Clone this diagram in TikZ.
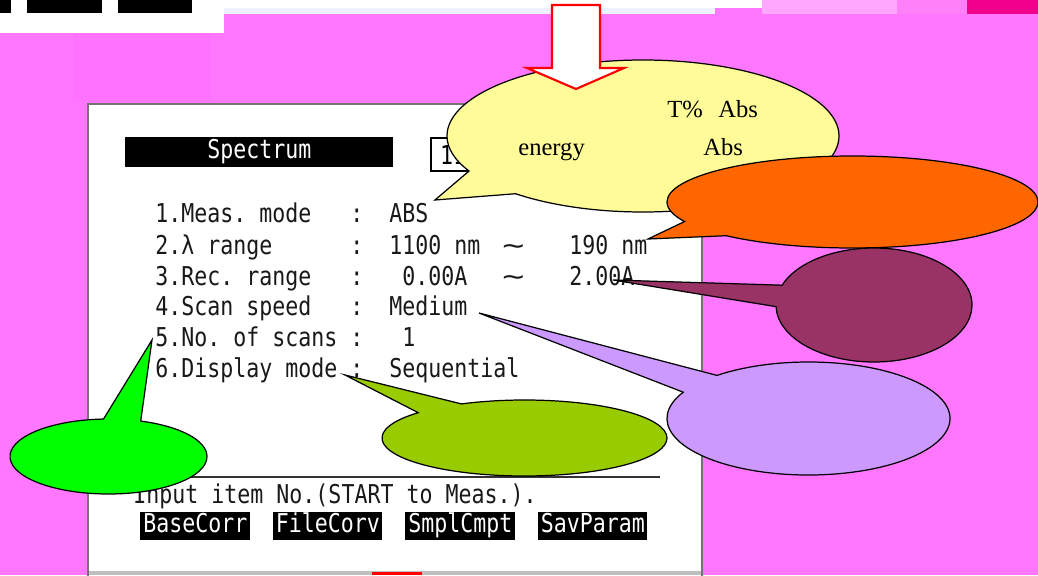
\documentclass[tikz,border=0pt]{standalone}
\usepackage{graphicx}
\usepackage{fontspec}
\setmainfont{Liberation Serif}
\setmonofont{DejaVu Sans Mono}
\usetikzlibrary{shapes.callouts}

\definecolor{bgpink}{RGB}{255,119,255}
\definecolor{bubyellow}{RGB}{255,251,153}
\definecolor{buborange}{RGB}{255,102,0}
\definecolor{bubmaroon}{RGB}{153,51,102}
\definecolor{bublilac}{RGB}{204,153,255}
\definecolor{bubolive}{RGB}{153,204,0}
\definecolor{bubgreen}{RGB}{0,255,0}
\definecolor{stripblue}{RGB}{236,242,255}
\definecolor{lightpink}{RGB}{255,166,255}
\definecolor{midpink}{RGB}{255,128,248}
\definecolor{hotpink}{RGB}{240,0,140}

\newcommand{\px}{0.02cm}
\newcommand{\tall}[1]{\scalebox{1}[1.2]{#1}}

\begin{document}
\begin{tikzpicture}[
  x=\px, y=-\px,
  item/.style={font=\ttfamily\fontsize{12.3}{14}\selectfont, text=black!90, inner sep=0pt, anchor=base west},
  key/.style={fill=black, text=white, font=\ttfamily\fontsize{12.3}{14}\selectfont, inner sep=0pt, anchor=north west,
              text height=11pt, text depth=3.5pt, minimum height=28*\px},
  bubble/.style={ellipse callout, draw=black, line width=0.7pt, inner sep=0pt, outer sep=0pt, callout pointer arc=22},
  note/.style={font=\fontsize{14}{16}\selectfont, inner sep=0pt, anchor=base west}
]
\useasboundingbox (0,0) rectangle (1038,575);
\fill[bgpink] (0,0) rectangle (1038,575);
\fill[bgpink!96!magenta] (73,33) rectangle (211,100);

% strip along the top
\fill[white] (0,0) rectangle (224,33);
\fill[black] (0,0) rectangle (11,13);
\fill[black] (27,0) rectangle (102,13);
\fill[black] (118,0) rectangle (192,13);
\fill[white] (224,0) rectangle (715,8);
\fill[stripblue] (224,8) rectangle (715,14);
\fill[white] (715,0) rectangle (762,8);
\fill[lightpink] (762,0) rectangle (897,14);
\fill[midpink] (897,0) rectangle (967,14);
\fill[hotpink] (967,0) rectangle (1038,14);

% screen
\draw[black!55, line width=0.8pt, fill=white] (88,578) -- (88,104) -- (702,104) -- (702,578);
\fill[black!25] (89,571) rectangle (701,575);
\fill[red] (372,572) rectangle (422,575);

\node[key, minimum width=268*\px, minimum height=30*\px] (title) at (125,137) {\tall{Spectrum}};
\node[draw=black, line width=1.2pt, fill=white, anchor=north west, inner sep=0pt,
      minimum width=44*\px, minimum height=33*\px, font=\ttfamily\fontsize{12.3}{14}\selectfont] (page) at (430,137) {\tall{11}};

% menu items
\node[item] (l1) at (155,222) {\tall{1.Meas. mode}};
\node[item] (l2) at (155,254) {\tall{2.λ range}};
\node[item] (l3) at (155,285) {\tall{3.Rec. range}};
\node[item] (l4) at (155,315) {\tall{4.Scan speed}};
\node[item] (l5) at (155,346) {\tall{5.No. of scans}};
\node[item] (l6) at (155,377) {\tall{6.Display mode}};
\foreach \yy in {222,254,285,315,346,377}
  \node[item] at (350,\yy) {\tall{:}};

\node[item] (v1) at (389,222) {\tall{ABS}};
\node[item] (v2) at (389,254) {\tall{1100 nm}};
\node[item] (t2) at (502,254) {\tall{\scalebox{1.7}[1]{\textasciitilde}}};
\node[item] (w2) at (569,254) {\tall{190 nm}};
\node[item] (v3) at (402,285) {\tall{0.00A}};
\node[item] (t3) at (502,285) {\tall{\scalebox{1.7}[1]{\textasciitilde}}};
\node[item] (w3) at (569,285) {\tall{2.00A}};
\node[item] (v4) at (389,315) {\tall{Medium}};
\node[item] (v5) at (402,346) {\tall{1}};
\node[item] (v6) at (389,377) {\tall{Sequential}};

% prompt and soft keys
\draw[black!80, line width=1.5pt] (130,477) -- (660,477);
\node[item] (prompt) at (133,503) {\tall{Input item No.(START to Meas.).}};
\node[key, minimum width=110*\px] (k1) at (140,512) {\tall{BaseCorr}};
\node[key, minimum width=109*\px] (k2) at (273,512) {\tall{FileCorv}};
\node[key, minimum width=110*\px] (k3) at (405,512) {\tall{SmplCmpt}};
\node[key, minimum width=109*\px] (k4) at (538,512) {\tall{SavParam}};

% where the bubbles point
\coordinate (pmode) at (435,200);
\coordinate (pwave) at (648,239);
\coordinate (prec) at (613,280);
\coordinate (pspeed) at (479,313);
\coordinate (pdisp) at (345,375);
\coordinate (pscans) at (152,340);

% bubbles
\node[bubble, fill=bubyellow, minimum width=392*\px, minimum height=152*\px,
      callout absolute pointer={(pmode)}] (cmode) at (643,136) {};
\node[note] (tpct) at (667,117) {T\%};
\node[note] (tabs) at (718,117) {Abs};
\node[note] (energy) at (518,155) {energy};
\node[note] (eabs) at (703,155) {Abs};
\draw[red, line width=1.2pt, fill=white] (552,5) -- (600,5) -- (600,68) -- (624,68)
  -- (576,89) -- (527,68) -- (552,68) -- cycle;

\node[bubble, fill=buborange, minimum width=371*\px, minimum height=92*\px,
      callout absolute pointer={(pwave)}] (cwave) at (852.5,202) {};
\node[bubble, fill=bubmaroon, minimum width=196*\px, minimum height=114*\px,
      callout absolute pointer={(prec)}] (crec) at (874,305) {};
\node[bubble, fill=bublilac, minimum width=283*\px, minimum height=113*\px,
      callout absolute pointer={(pspeed)}] (cspeed) at (808.5,418.5) {};
\node[bubble, fill=bubolive, minimum width=285*\px, minimum height=76*\px,
      callout absolute pointer={(pdisp)}] (cdisp) at (524.5,438) {};
\node[bubble, fill=bubgreen, minimum width=197*\px, minimum height=75*\px,
      callout absolute pointer={(pscans)}] (cscans) at (108.5,456.5) {};
\end{tikzpicture}
\end{document}
